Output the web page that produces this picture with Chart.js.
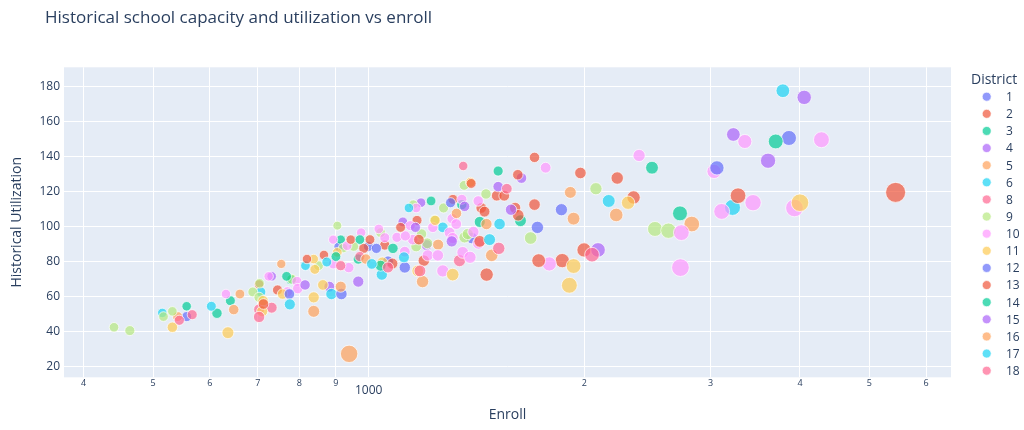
<!DOCTYPE html>
<html>
<head>
<meta charset="utf-8">
<script src="https://cdn.jsdelivr.net/npm/chart.js@4.4.1/dist/chart.umd.min.js"></script>
<style>
  html, body { margin: 0; padding: 0; background: #fff; }
</style>
</head>
<body>
<canvas id="myChart" width="1024" height="430"></canvas>
<script>
// enroll / utilization per district
const enrollD1 = [557, 908, 999, 1064, 1393, 1858, 3861];
const utilD1 = [48.6, 88.7, 88.7, 80.2, 93.5, 109.7, 150.7];
const enrollD2 = [703, 746, 866, 984, 1053, 1168, 1194, 1311, 1509, 1436, 1601, 1704, 1704, 1461, 1863, 1975, 2343, 5440];
const utilD2 = [66.9, 63.8, 83.8, 87.6, 89.5, 103.6, 80.6, 115.6, 117.7, 110.7, 110.7, 112.6, 139.6, 72.6, 80.6, 130.7, 116.7, 119.6];
const enrollD3 = [557, 641, 779, 914, 967, 1081, 1349, 1629, 2486, 3700];
const utilD3 = [54.5, 57.7, 69.7, 92.6, 81.5, 87.6, 112.6, 103.4, 133.7, 148.7];
const enrollD4 = [732, 881, 1116, 1205, 1183, 1516, 1634, 4055, 3610];
const utilD4 = [71.6, 65.7, 102.7, 89.5, 113.7, 122.9, 127.8, 173.9, 137.7];
const enrollD5 = [541, 661, 838, 939, 1250, 1189, 1485, 1912, 2825];
const utilD5 = [48.6, 61.5, 51.6, 27.3, 89.7, 68.6, 83.6, 119.6, 101.5];
const enrollD6 = [515, 707, 816, 887, 1043, 1269, 1523, 2163, 3220];
const utilD6 = [50.7, 62.7, 77.7, 61.5, 72.6, 99.6, 101.5, 114.7, 111];
const enrollD8 = [544, 703, 732, 972, 1339, 1355, 1519];
const utilD8 = [46.5, 52.7, 53.7, 82.9, 80.6, 134.7, 87.6];
const enrollD9 = [441, 464, 517, 532, 689, 704, 703, 781, 851, 904, 921, 953, 1039, 1185, 1207, 1165, 1236, 1361, 1375, 1154, 1272, 1359, 1458, 1683, 2076, 2510, 2621];
const utilD9 = [42.5, 40.6, 48.6, 51.6, 62.7, 67.6, 59.6, 70, 77.7, 100.6, 87.8, 88.7, 96.6, 95.8, 90.5, 88.7, 103.8, 93.9, 95.8, 112.6, 110.7, 123.6, 118.7, 93.5, 121.7, 98.7, 97.7];
const enrollD10 = [632, 725, 770, 794, 796, 892, 892, 933, 938, 976, 1033, 1053, 1143, 1095, 1152, 1123, 1125, 1209, 1249, 1229, 1297, 1308, 1325, 1310, 1353, 1385, 1269, 1165, 1349, 1422, 1766, 1423, 1787, 2385, 2732, 2724, 3035, 3350, 4286, 3440, 3110, 3930, 1400];
const utilD10 = [61.5, 71.6, 62.7, 68.7, 64.6, 78.7, 92.6, 89.1, 76.6, 96.6, 98.7, 93.7, 100.6, 93.9, 92.6, 85.7, 94.7, 83.6, 83.6, 99.6, 96.6, 104.6, 101.5, 93.5, 85.3, 82.5, 74.7, 110.7, 115.6, 114.7, 133.7, 90.5, 78.7, 140.7, 96.6, 76.6, 131.6, 148.7, 149.7, 113.7, 108.7, 110.7, 97];
const enrollD11 = [532, 636, 712, 710, 758, 838, 841, 838, 863, 904, 1045, 1238, 1310, 1171, 1387, 1932, 1906, 2302, 4000];
const utilD11 = [42.5, 39.4, 57.7, 51.6, 61.5, 81.5, 75.6, 59.6, 66.7, 85.3, 79.6, 103.6, 72.6, 74.7, 125.4, 77.5, 66.5, 113.7, 113.7];
const enrollD12 = [775, 916, 1025, 1123, 1301, 1720, 3063];
const utilD12 = [61.5, 61.5, 87.6, 76.7, 113.7, 99.6, 133.6];
const enrollD13 = [713, 820, 944, 1004, 1108, 1175, 1079, 1390, 1546, 1451, 1617, 1615, 1429, 1727, 1998, 2223, 3278];
const utilD13 = [55.8, 81.5, 92.6, 92.6, 99.6, 92.6, 78.9, 124.7, 117.7, 108.6, 106.5, 129.7, 91.6, 80.6, 86.7, 127.8, 117.7];
const enrollD14 = [614, 768, 900, 972, 1039, 1222, 1516, 1429, 2720];
const utilD14 = [50.5, 71.6, 82.9, 92.6, 77.7, 114.7, 131.8, 102.7, 107.6];
const enrollD15 = [815, 967, 1162, 1306, 1361, 1580, 2090, 3229];
const utilD15 = [66.7, 68.6, 99.6, 91.6, 111.6, 109.7, 86.7, 152.7];
const enrollD16 = [648, 755, 914, 991, 1326, 1460, 1932, 2216];
const utilD16 = [52.6, 78.7, 65.7, 81.5, 107.6, 101.5, 104.6, 106.7];
const enrollD17 = [603, 776, 874, 1010, 1120, 1138, 1475, 3786];
const utilD17 = [54.5, 55.6, 79.8, 78.7, 82.5, 110.7, 92.6, 177.7];
const enrollD18 = [567, 703, 914, 1064, 1179, 1559, 2050];
const utilD18 = [49.7, 48.4, 77.7, 76.7, 74.7, 121.7, 84];

const districts = ['1', '2', '3', '4', '5', '6', '8', '9', '10', '11', '12', '13', '14', '15', '16', '17', '18'];
const xTickValues = [400, 500, 600, 700, 800, 900, 1000, 2000, 3000, 4000, 5000, 6000];
const xTickLabels = ['4', '5', '6', '7', '8', '9', '1000', '2', '3', '4', '5', '6'];
const yTickValues = [20, 40, 60, 80, 100, 120, 140, 160, 180];

const enrolls = [enrollD1, enrollD2, enrollD3, enrollD4, enrollD5, enrollD6, enrollD8, enrollD9, enrollD10,
  enrollD11, enrollD12, enrollD13, enrollD14, enrollD15, enrollD16, enrollD17, enrollD18];
const utils = [utilD1, utilD2, utilD3, utilD4, utilD5, utilD6, utilD8, utilD9, utilD10,
  utilD11, utilD12, utilD13, utilD14, utilD15, utilD16, utilD17, utilD18];

const palette = ['#636efa', '#EF553B', '#00cc96', '#ab63fa', '#FFA15A', '#19d3f3', '#FF6692', '#B6E880', '#FF97FF', '#FECB52'];
const fontColor = '#2a3f5f';
const FONT = 'Open Sans';

function rgba(hex, a) {
  const n = parseInt(hex.slice(1), 16);
  return 'rgba(' + (n >> 16) + ',' + ((n >> 8) & 255) + ',' + (n & 255) + ',' + a + ')';
}

// bubble size = capacity (enroll / utilization), max diameter 20px
let maxCap = 0;
enrolls.forEach((arr, i) => arr.forEach((e, j) => { maxCap = Math.max(maxCap, e * 100 / utils[i][j]); }));

const datasets = districts.map((d, i) => ({
  label: d,
  data: enrolls[i].map((e, j) => ({ x: e, y: utils[i][j], r: 10 * Math.sqrt((e * 100 / utils[i][j]) / maxCap) })),
  backgroundColor: rgba(palette[i % 10], 0.7),
  borderColor: 'rgba(255,255,255,0.7)',
  borderWidth: 1,
  order: districts.length - i
}));

const overlay = {
  id: 'overlay',
  beforeDraw(chart) {
    const { ctx, chartArea: a } = chart;
    ctx.save();
    ctx.fillStyle = '#E5ECF6';
    ctx.fillRect(a.left, a.top, a.right - a.left, a.bottom - a.top);
    ctx.restore();
  },
  afterDraw(chart) {
    const ctx = chart.ctx;
    ctx.save();
    ctx.textBaseline = 'alphabetic';
    ctx.textAlign = 'left';
    ctx.fillStyle = fontColor;
    ctx.font = '17px "' + FONT + '"';
    ctx.fillText('Historical school capacity and utilization vs enroll', 45, 22.5);
    ctx.font = '14px "' + FONT + '"';
    ctx.fillText('District', 971, 84);
    districts.forEach((d, i) => {
      const y = 96.7 + i * 17.125;
      ctx.beginPath();
      ctx.arc(986.7, y, 4.5, 0, Math.PI * 2);
      ctx.fillStyle = rgba(palette[i % 10], 0.7);
      ctx.fill();
      ctx.strokeStyle = 'rgba(255,255,255,0.7)';
      ctx.lineWidth = 1;
      ctx.stroke();
      ctx.fillStyle = fontColor;
      ctx.font = '12px "' + FONT + '"';
      ctx.fillText(d, 1006, y + 4.3);
    });
    ctx.restore();
  }
};

const ctx = document.getElementById('myChart');
new Chart(ctx, {
  type: 'bubble',
  data: { datasets: datasets },
  options: {
    responsive: false,
    animation: false,
    layout: { padding: { top: 67.3, right: 73, bottom: 0, left: 0 }, autoPadding: false },
    plugins: { legend: { display: false }, title: { display: false }, tooltip: { enabled: false } },
    scales: {
      x: {
        type: 'logarithmic',
        min: 375.5,
        max: 6500,
        afterBuildTicks: s => { s.ticks = xTickValues.map(v => ({ value: v })); },
        afterFit: s => { s.height = 52.7; },
        grid: { color: '#ffffff', lineWidth: 1, drawTicks: false },
        border: { display: false },
        ticks: {
          autoSkip: false,
          maxRotation: 0,
          padding: 0,
          color: fontColor,
          callback: (v, i) => xTickLabels[i],
          font: c => (c.tick && c.tick.value === 1000)
            ? { family: FONT, size: 12, lineHeight: 27.4 / 12 }
            : { family: FONT, size: 9, lineHeight: 12 / 9 }
        },
        title: { display: true, text: 'Enroll', color: fontColor, font: { family: FONT, size: 14 }, padding: { top: 0, bottom: 6.6 } }
      },
      y: {
        type: 'linear',
        min: 13.9,
        max: 191.1,
        afterBuildTicks: s => { s.ticks = yTickValues.map(v => ({ value: v })); },
        afterFit: s => { s.width = 64; },
        grid: { color: '#ffffff', lineWidth: 1, drawTicks: false },
        border: { display: false },
        ticks: { padding: 4, color: fontColor, font: { family: FONT, size: 12 } },
        title: { display: true, text: 'Historical Utilization', color: fontColor, font: { family: FONT, size: 14 }, padding: { top: 8.6, bottom: 0 } }
      }
    }
  },
  plugins: [overlay]
});
</script>
</body>
</html>
